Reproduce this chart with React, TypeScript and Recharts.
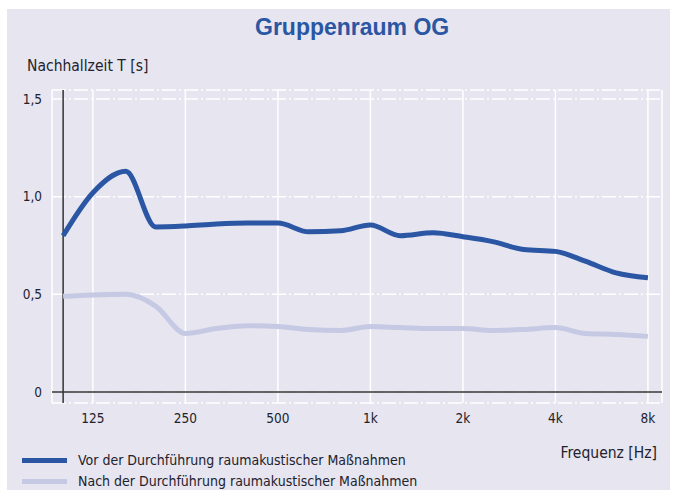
import { LineChart, Line, XAxis, YAxis, CartesianGrid, ReferenceLine } from 'recharts';

// 1/3-octave band centre frequencies [Hz]
const freqs = [100, 125, 160, 200, 250, 315, 400, 500, 630, 800, 1000, 1250, 1600, 2000, 2500, 3150, 4000, 5000, 6300, 8000];

// reverberation time T [s]
const vorValues = [0.80, 1.02, 1.13, 0.845, 0.85, 0.86, 0.865, 0.865, 0.82, 0.825, 0.855, 0.80, 0.815, 0.795, 0.77, 0.73, 0.72, 0.67, 0.61, 0.585];
const nachValues = [0.49, 0.497, 0.50, 0.44, 0.30, 0.325, 0.34, 0.335, 0.32, 0.315, 0.335, 0.33, 0.325, 0.325, 0.315, 0.32, 0.33, 0.30, 0.295, 0.285];

const xTicks = [125, 250, 500, 1000, 2000, 4000, 8000];
const xTickLabels = ['125', '250', '500', '1k', '2k', '4k', '8k'];
const yTicks = [0, 0.5, 1, 1.5];
const yTickLabels = ['0', '0,5', '1,0', '1,5'];

const vorName = 'Vor der Durchführung raumakustischer Maßnahmen';
const nachName = 'Nach der Durchführung raumakustischer Maßnahmen';

const data = freqs.map((f, i) => ({ f, vor: vorValues[i], nach: nachValues[i] }));

const FONT = '"DejaVu Sans Condensed", "Liberation Sans", sans-serif';
const TEXT = '#22222c';
const BLUE = '#2a56a3';
const LIGHT = '#c6c9e3';

export default function App() {
    const label = { position: 'absolute' as const, fontFamily: FONT, lineHeight: '18px', color: TEXT, whiteSpace: 'nowrap' as const };

    return (
        <div style={{ position: 'absolute', left: 0, top: 0, width: 678, height: 493, background: '#fff', overflow: 'hidden' }}>
            <div style={{ position: 'absolute', left: 7, top: 9, width: 663, height: 481, background: '#e6e5f0' }} />

            <div style={{ position: 'absolute', left: 255, top: 16, fontFamily: '"Liberation Sans", Arial, sans-serif', fontWeight: 'bold', fontSize: 23, lineHeight: '23px', color: BLUE, whiteSpace: 'nowrap' }}>
                Gruppenraum OG
            </div>
            <div style={{ ...label, fontSize: 15.5, left: 27, top: 57 }}>Nachhallzeit T [s]</div>

            <LineChart
                width={678}
                height={493}
                data={data}
                margin={{ top: 90, right: 16, bottom: 60, left: 12 }}
                style={{ position: 'absolute', left: 0, top: 0 }}
            >
                <CartesianGrid vertical={false} stroke="#fff" strokeWidth={1.5} strokeDasharray="14 3 2 3" />
                <CartesianGrid horizontal={false} stroke="#fff" strokeWidth={1.5} />
                <XAxis
                    dataKey="f"
                    type="number"
                    scale="log"
                    domain={[92, 8890]}
                    allowDataOverflow
                    ticks={xTicks}
                    tickFormatter={(v: number) => xTickLabels[xTicks.indexOf(v)] ?? ''}
                    axisLine={false}
                    tickLine={false}
                    tickSize={0}
                    tickMargin={10}
                    height={30}
                    tick={{ fill: TEXT, fontSize: 13.5, fontFamily: FONT }}
                />
                <YAxis
                    type="number"
                    domain={[-0.056, 1.546]}
                    allowDataOverflow
                    ticks={yTicks}
                    tickFormatter={(v: number) => yTickLabels[yTicks.indexOf(v)] ?? ''}
                    axisLine={false}
                    tickLine={false}
                    tickSize={0}
                    tickMargin={10}
                    width={40}
                    tick={{ fill: TEXT, fontSize: 13.5, fontFamily: FONT }}
                />
                <ReferenceLine y={0} stroke="#333" strokeWidth={1.5} />
                <ReferenceLine x={freqs[0]} stroke="#333" strokeWidth={1.5} />
                <Line type="monotone" dataKey="nach" name={nachName} stroke={LIGHT} strokeWidth={5} dot={false} activeDot={false} isAnimationActive={false} />
                <Line type="monotone" dataKey="vor" name={vorName} stroke={BLUE} strokeWidth={5} dot={false} activeDot={false} isAnimationActive={false} />
            </LineChart>

            <div style={{ ...label, fontSize: 15.5, right: 678 - 657, top: 444 }}>Frequenz [Hz]</div>

            <div style={{ position: 'absolute', left: 22, top: 458, width: 45, height: 5, background: BLUE }} />
            <div style={{ ...label, fontSize: 14, left: 78, top: 451 }}>{vorName}</div>
            <div style={{ position: 'absolute', left: 22, top: 479, width: 45, height: 5, background: LIGHT }} />
            <div style={{ ...label, fontSize: 14, left: 78, top: 472 }}>{nachName}</div>
        </div>
    );
}
